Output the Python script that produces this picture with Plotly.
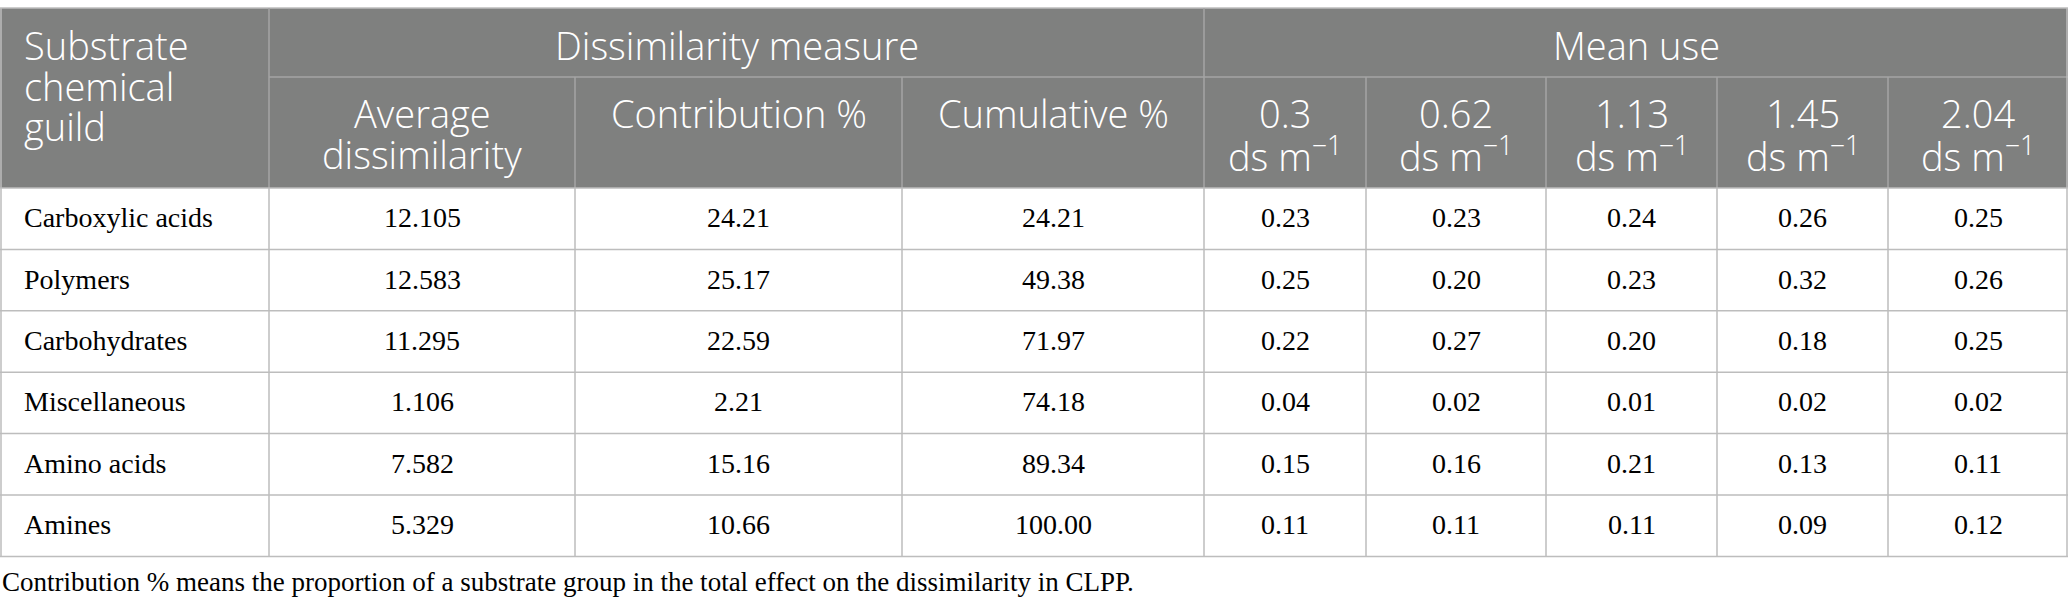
import plotly.graph_objects as go

# table contents
guilds = ["Carboxylic acids", "Polymers", "Carbohydrates", "Miscellaneous", "Amino acids", "Amines"]
avg_dissimilarity = [12.105, 12.583, 11.295, 1.106, 7.582, 5.329]
contribution = [24.21, 25.17, 22.59, 2.21, 15.16, 10.66]
cumulative = [24.21, 49.38, 71.97, 74.18, 89.34, 100.00]

salinity_levels = ["0.3", "0.62", "1.13", "1.45", "2.04"]
use_0_3 = [0.23, 0.25, 0.22, 0.04, 0.15, 0.11]
use_0_62 = [0.23, 0.20, 0.27, 0.02, 0.16, 0.11]
use_1_13 = [0.24, 0.23, 0.20, 0.01, 0.21, 0.11]
use_1_45 = [0.26, 0.32, 0.18, 0.02, 0.13, 0.09]
use_2_04 = [0.25, 0.26, 0.25, 0.02, 0.11, 0.12]

footnote = "Contribution % means the proportion of a substrate group in the total effect on the dissimilarity in CLPP."

W, H = 2068, 612
col_x = [0, 269, 575, 902, 1204, 1366, 1546, 1717, 1888, 2068]
head_top, head_mid, head_bot = 8, 77, 188
row_h = 61.4

HEAD_BG = "#7f807f"
HEAD_LINE = "#a4a4a4"
GRID = "#bdbdbd"
SANS = "Open Sans"
SERIF = "Liberation Serif"

fig = go.Figure()
shapes = []
ann = []


def line(x0, y0, x1, y1, color, width=1.5):
    shapes.append(dict(type="line", x0=x0, y0=y0, x1=x1, y1=y1, xref="x", yref="y",
                       line=dict(color=color, width=width), layer="above"))


def text(x, y, s, font, size, color, xanchor="center"):
    ann.append(dict(x=x, y=y, xref="x", yref="y", text=s, showarrow=False,
                    xanchor=xanchor, yanchor="middle",
                    font=dict(family=font, size=size, color=color, weight=300 if font == SANS else 400)))


# header background
shapes.append(dict(type="rect", x0=0, x1=W, y0=head_top, y1=head_bot, xref="x", yref="y",
                   fillcolor=HEAD_BG, line=dict(width=0), layer="below"))

n_rows = len(guilds)
table_bot = head_bot + n_rows * row_h

# header lines
line(0, head_top, W, head_top, GRID)
line(col_x[1], head_mid, W, head_mid, HEAD_LINE)
line(col_x[1], head_top, col_x[1], head_bot, HEAD_LINE)
line(col_x[4], head_top, col_x[4], head_bot, HEAD_LINE)
for cx in col_x[2:4] + col_x[5:9]:
    line(cx, head_mid, cx, head_bot, HEAD_LINE)

# body grid
for i in range(n_rows + 1):
    yy = head_bot + i * row_h
    line(0, yy, W, yy, GRID)
for cx in col_x[1:-1]:
    line(cx, head_bot, cx, table_bot, GRID)
line(1, head_top, 1, table_bot, GRID)
line(W - 1, head_top, W - 1, table_bot, GRID)

# header text
HS = 38
text(22, 45, "Substrate", SANS, HS, "white", "left")
text(22, 86, "chemical", SANS, HS, "white", "left")
text(22, 126, "guild", SANS, HS, "white", "left")
text((col_x[1] + col_x[4]) / 2, 45, "Dissimilarity measure", SANS, HS, "white")
text((col_x[4] + col_x[9]) / 2, 45, "Mean use", SANS, HS, "white")
text((col_x[1] + col_x[2]) / 2, 113, "Average", SANS, HS, "white")
text((col_x[1] + col_x[2]) / 2, 154, "dissimilarity", SANS, HS, "white")
text((col_x[2] + col_x[3]) / 2, 113, "Contribution %", SANS, HS, "white")
text((col_x[3] + col_x[4]) / 2, 113, "Cumulative %", SANS, HS, "white")
for j, lvl in enumerate(salinity_levels):
    cx = (col_x[4 + j] + col_x[5 + j]) / 2
    text(cx, 113, lvl, SANS, HS, "white")
    text(cx, 154, "ds m<sup>\u22121</sup>", SANS, HS, "white")

# body text
BS = 28
mean_use = [use_0_3, use_0_62, use_1_13, use_1_45, use_2_04]
for i, g in enumerate(guilds):
    yc = head_bot + i * row_h + row_h / 2 - 1
    text(22, yc, g, SERIF, BS, "black", "left")
    vals = [f"{avg_dissimilarity[i]:.3f}", f"{contribution[i]:.2f}", f"{cumulative[i]:.2f}"]
    vals += [f"{u[i]:.2f}" for u in mean_use]
    for j, v in enumerate(vals):
        text((col_x[1 + j] + col_x[2 + j]) / 2, yc, v, SERIF, BS, "black")

text(0, 582, footnote, SERIF, 27, "black", "left")

fig.update_layout(
    width=W, height=H,
    margin=dict(l=0, r=0, t=0, b=0),
    paper_bgcolor="white", plot_bgcolor="white",
    xaxis=dict(range=[0, W], visible=False, fixedrange=True),
    yaxis=dict(range=[H, 0], visible=False, fixedrange=True),
    shapes=shapes, annotations=ann, showlegend=False,
)
# drop the default body margin so the table starts at the page corner
fig.write_html("out.html", config={"displayModeBar": False},
               post_script="document.body.style.margin = '0';")
